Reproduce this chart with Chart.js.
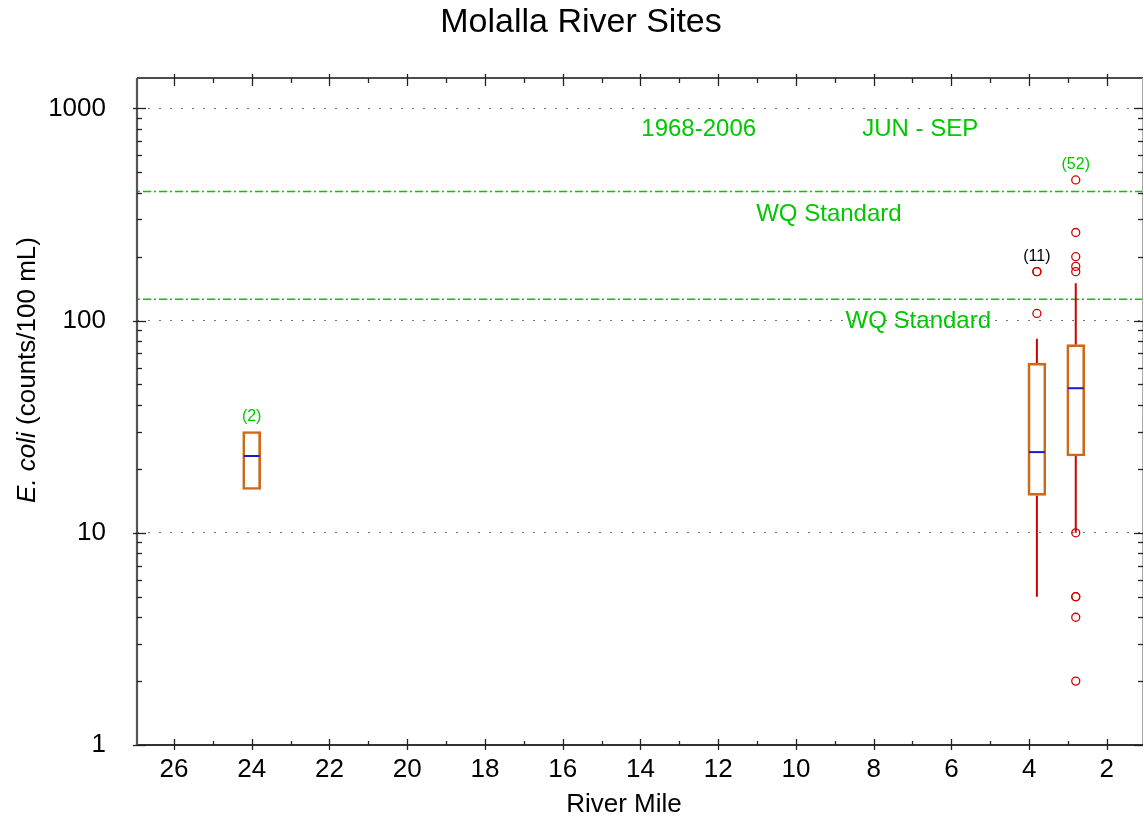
<!DOCTYPE html>
<html><head><meta charset="utf-8">
<script src="https://cdn.jsdelivr.net/npm/chart.js@4/dist/chart.umd.min.js"></script>
<style>html,body{margin:0;padding:0;background:#fff;}</style>
</head><body>
<canvas id="c" width="1144" height="822"></canvas>
<script>
// ---------------- data ----------------
const siteMiles   = [24, 3.8, 2.8];
const sampleCount = [2, 11, 52];
const q1          = [16, 15, 23];
const medians     = [23, 24, 48];
const q3          = [30, 63, 77];
const whiskerLow  = [null, 5, 10];
const whiskerHigh = [null, 82, 150];
const outliers    = [[], [108, 170, 170], [460, 260, 200, 180, 170, 10, 5, 5, 4, 2]];
const standards   = [406, 126];
const xTickValues = [26, 24, 22, 20, 18, 16, 14, 12, 10, 8, 6, 4, 2];
const yTickValues = [1, 10, 100, 1000];
const noteText    = ['1968-2006', 'JUN - SEP', 'WQ Standard', 'WQ Standard'];
const noteMile    = [12.5, 6.8, 9.15, 6.85];
const noteValue   = [800, 800, 318, 99];
const X_MIN = 1.07, X_MAX = 26.95, Y_MIN = 1, Y_MAX = 1390;
const TITLE = 'Molalla River Sites';
const X_TITLE = 'River Mile';

// ---------------- styles ----------------
const FONT = 'Liberation Sans, Arial, Helvetica, sans-serif';
const GREEN = '#00c800', BOX = '#cc6a1a', RED = '#d00000', BLUE = '#1a1ad0';
const countColors = [GREEN, '#000000', GREEN];

Chart.defaults.font.family = FONT;
Chart.defaults.color = '#000';

// ---------------- derived datasets ----------------
const boxData = siteMiles.map((m, i) => ({x: m, y: [q1[i], q3[i]]}));
const medData = siteMiles.map((m, i) => ({x: m, y: medians[i]}));
const whiskData = [];
siteMiles.forEach((m, i) => {
  if (whiskerLow[i] != null) {
    whiskData.push({x: m, y: whiskerLow[i]}, {x: m, y: q1[i]}, {x: m, y: null},
                   {x: m, y: q3[i]}, {x: m, y: whiskerHigh[i]}, {x: m, y: null});
  }
});
const outData = [];
siteMiles.forEach((m, i) => outliers[i].forEach(v => outData.push({x: m, y: v})));

const stdSets = standards.map(s => ({
  type: 'line', data: [{x: X_MIN, y: s}, {x: X_MAX, y: s}],
  borderColor: GREEN, borderWidth: 1.5, borderDash: [8, 3, 2, 3],
  pointRadius: 0, order: 5
}));

const decor = {
  id: 'decor',
  afterDraw(chart) {
    const {ctx, chartArea: a, scales: {x, y}} = chart;
    ctx.save();
    ctx.setLineDash([]);
    ctx.lineCap = 'butt';
    ctx.strokeStyle = '#111'; ctx.lineWidth = 1.3;
    ctx.beginPath(); ctx.moveTo(a.left, a.top); ctx.lineTo(a.right, a.top); ctx.stroke();
    ctx.strokeStyle = '#aaa'; ctx.lineWidth = 1;
    ctx.beginPath(); ctx.moveTo(a.right - 0.5, a.top); ctx.lineTo(a.right - 0.5, a.bottom); ctx.stroke();
    ctx.strokeStyle = '#333'; ctx.lineWidth = 2;
    ctx.beginPath(); ctx.moveTo(a.left, a.bottom); ctx.lineTo(a.right, a.bottom); ctx.stroke();
    ctx.strokeStyle = '#555'; ctx.lineWidth = 2.2;
    ctx.beginPath(); ctx.moveTo(a.left, a.top); ctx.lineTo(a.left, a.bottom + 1); ctx.stroke();

    ctx.strokeStyle = '#222'; ctx.lineWidth = 1.3;
    const line = (x1, y1, x2, y2) => { ctx.beginPath(); ctx.moveTo(x1, y1); ctx.lineTo(x2, y2); ctx.stroke(); };
    for (let d = 1; d <= y.max; d *= 10) {
      for (let m = 1; m <= 9; m++) {
        const v = m * d;
        if (v < y.min || v > y.max) continue;
        const py = Math.round(y.getPixelForValue(v)) + 0.5;
        const major = m === 1;
        line(a.left - (major ? 4 : 0), py, a.left + (major ? 9 : 5), py);
        line(a.right - (major ? 9 : 5), py, a.right, py);
      }
    }
    for (let v = Math.ceil(x.min); v <= x.max; v++) {
      const px = Math.round(x.getPixelForValue(v)) + 0.5;
      const major = v % 2 === 0;
      line(px, a.bottom - (major ? 6 : 4), px, a.bottom + (major ? 5 : 0));
      line(px, a.top - (major ? 4 : 0), px, a.top + (major ? 8 : 5));
    }

    ctx.fillStyle = GREEN;
    ctx.font = '24px ' + FONT;
    ctx.textAlign = 'center'; ctx.textBaseline = 'middle';
    noteText.forEach((t, i) => ctx.fillText(t, x.getPixelForValue(noteMile[i]), y.getPixelForValue(noteValue[i])));

    ctx.font = '16px ' + FONT;
    siteMiles.forEach((m, i) => {
      const top = Math.max(q3[i], whiskerHigh[i] || 0, ...outliers[i]);
      ctx.fillStyle = countColors[i];
      ctx.fillText('(' + sampleCount[i] + ')', x.getPixelForValue(m), y.getPixelForValue(top) - 15);
    });

    // titles
    ctx.fillStyle = '#000';
    ctx.font = '34px ' + FONT;
    ctx.fillText(TITLE, 581, 23);
    ctx.font = '26px ' + FONT;
    ctx.fillText(X_TITLE, 624, 805);

    ctx.translate(28, 370);
    ctx.rotate(-Math.PI / 2);
    ctx.textAlign = 'left';
    const p1 = 'E. coli', p2 = ' (counts/100 mL)';
    ctx.font = 'italic 26px ' + FONT; const w1 = ctx.measureText(p1).width;
    ctx.font = '26px ' + FONT; const w2 = ctx.measureText(p2).width;
    const start = -(w1 + w2) / 2;
    ctx.font = 'italic 26px ' + FONT; ctx.fillText(p1, start, 0);
    ctx.font = '26px ' + FONT; ctx.fillText(p2, start + w1, 0);
    ctx.restore();
  }
};

new Chart(document.getElementById('c'), {
  type: 'scatter',
  data: {
    datasets: [
      {type: 'scatter', data: outData, pointStyle: 'circle', pointRadius: 4, borderWidth: 1.3,
       borderColor: RED, backgroundColor: 'rgba(0,0,0,0)', order: 1},
      {type: 'scatter', data: medData, pointStyle: 'line', pointRadius: 8, borderWidth: 2,
       borderColor: BLUE, order: 2},
      {type: 'bar', data: boxData, barThickness: 18, borderWidth: 2, borderColor: BOX,
       backgroundColor: 'rgba(255,255,255,0)', borderSkipped: false, order: 3},
      {type: 'line', data: whiskData, borderColor: RED, borderWidth: 2, pointRadius: 0,
       spanGaps: false, order: 4},
      ...stdSets
    ]
  },
  options: {
    responsive: false,
    devicePixelRatio: 1,
    animation: false,
    events: [],
    layout: {autoPadding: false, padding: {top: 78, right: 1, left: 0, bottom: 0}},
    plugins: {
      legend: {display: false},
      tooltip: {enabled: false},
      title: {display: false}
    },
    scales: {
      x: {
        type: 'linear', reverse: true, min: X_MIN, max: X_MAX, offset: false,
        afterBuildTicks: s => { s.ticks = xTickValues.map(v => ({value: v})); },
        afterFit: s => { s.height = 77; s.paddingLeft = 0; s.paddingRight = 0; },
        ticks: {font: {size: 26}, color: '#000', padding: 9, maxRotation: 0, autoSkip: false,
                callback: v => String(v)},
        grid: {display: false, drawTicks: false, offset: false},
        border: {display: false},
        title: {display: false}
      },
      y: {
        type: 'logarithmic', min: Y_MIN, max: Y_MAX,
        afterBuildTicks: s => { s.ticks = yTickValues.map(v => ({value: v})); },
        afterFit: s => { s.width = 137; s.paddingTop = 0; s.paddingBottom = 0; },
        ticks: {font: {size: 26}, color: '#000', padding: 31, autoSkip: false,
                callback: v => String(v)},
        grid: {drawTicks: false, lineWidth: 1,
               color: c => (c.tick && c.tick.value === 1) ? 'rgba(0,0,0,0)' : '#777'},
        border: {display: false, dash: [2, 9]}
      }
    }
  },
  plugins: [decor]
});
</script>
</body></html>
